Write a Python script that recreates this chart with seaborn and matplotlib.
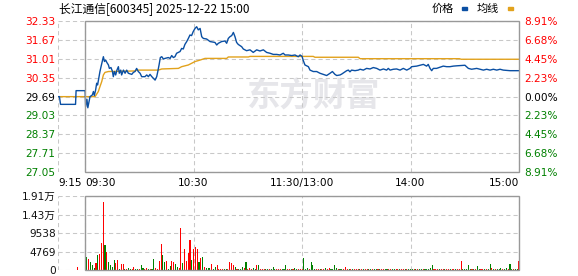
import numpy as np
import pandas as pd
import matplotlib
matplotlib.use('Agg')
import matplotlib.pyplot as plt
import matplotlib.transforms as mtransforms
from matplotlib.patches import Rectangle
import seaborn as sns

sns.set_theme(style='white')
plt.rcParams['font.family'] = ['DejaVu Sans', 'Noto Sans CJK SC']
plt.rcParams['lines.scale_dashes'] = False
CJK = ['Noto Sans CJK SC', 'DejaVu Sans']

# ---------------- data ----------------
title_text = '长江通信[600345] 2025-12-22 15:00'
legend_names = ['价格', '均线']
prev_close = 29.69
price_ticks = [27.05, 27.71, 28.37, 29.03, 29.69, 30.35, 31.01, 31.67, 32.33]
price_labels = ['27.05', '27.71', '28.37', '29.03', '29.69', '30.35', '31.01', '31.67', '32.33']
pct_labels = ['8.91%', '6.68%', '4.45%', '2.23%', '0.00%', '2.23%', '4.45%', '6.68%', '8.91%']
vol_ticks = [0, 4769, 9538, 14307, 19076]
vol_labels = ['0', '4769', '9538', '1.43万', '1.91万']
time_ticks = [-15, 0, 60, 120, 180, 240]          # minutes from 09:30 (trading time)
time_labels = ['9:15', '09:30', '10:30', '11:30/13:00', '14:00', '15:00']

price_t = [-15, -14.2, -13.6, -5.3, -5.0, 0.0, 0.3, 1.0, 1.5, 2.7, 4.0, 4.6, 5.1, 5.8, 6.4, 6.9,
           7.7, 8.2, 8.8, 9.5, 10.1, 10.7, 11.4, 12.0, 12.9, 13.4, 14.3, 15.1, 15.6, 16.2, 16.9,
           17.6, 18.4, 18.9, 19.7, 20.2, 21.2, 22.1, 23.0, 23.9, 25.8, 26.7, 27.6, 28.5, 29.4,
           30.4, 31.3, 33.1, 34.1, 35.0, 35.9, 36.9, 37.8, 38.7, 39.6, 40.2, 40.9, 41.6, 42.4,
           43.3, 44.2, 46.0, 47.0, 47.9, 48.8, 49.7, 50.6, 51.6, 52.5, 53.4, 54.3, 55.2, 56.2,
           57.1, 58.0, 58.9, 59.8, 60.8, 61.7, 62.6, 63.6, 64.5, 65.4, 67.2, 69.1, 71.8, 72.8,
           73.7, 75.5, 77.4, 78.3, 79.2, 80.1, 81.1, 82.0, 82.9, 83.8, 84.7, 86.6, 87.5, 89.3,
           91.2, 93.0, 94.9, 96.7, 98.6, 100.4, 102.3, 104.1, 106.0, 107.8, 109.6, 110.6, 112.4,
           114.3, 116.1, 117.9, 118.9, 120.0, 120.7, 121.6, 123.5, 124.4, 126.2, 128.1, 129.9,
           131.8, 133.6, 135.5, 136.8, 138.2, 139.2, 141.0, 141.9, 143.7, 144.7, 145.6, 146.5,
           147.4, 149.3, 151.1, 152.1, 153.9, 155.7, 157.6, 159.4, 161.3, 163.1, 165.0, 166.8,
           167.7, 168.7, 170.5, 172.3, 174.2, 176.0, 177.9, 179.7, 180.6, 183.4, 185.2, 187.1,
           188.9, 189.8, 190.8, 191.7, 192.6, 194.4, 196.3, 198.1, 200.0, 201.8, 203.7, 205.5,
           210.1, 212.0, 213.8, 216.6, 218.4, 220.3, 222.1, 224.0, 225.8, 227.7, 229.5, 231.3,
           235.0, 240.0]
price_v = [29.69, 29.69, 29.42, 29.42, 29.90, 29.90, 29.34, 29.60, 29.30, 29.69, 29.75, 29.87,
           29.73, 29.92, 30.16, 30.10, 30.39, 30.57, 30.74, 30.92, 31.09, 30.92, 30.97, 30.89,
           30.80, 30.68, 30.71, 30.58, 30.39, 30.57, 30.45, 30.62, 30.74, 30.51, 30.62, 30.45,
           30.62, 30.51, 30.62, 30.51, 30.47, 30.54, 30.57, 30.68, 30.57, 30.51, 30.39, 30.39,
           30.45, 30.39, 30.47, 30.39, 30.33, 30.27, 30.39, 30.57, 30.80, 31.06, 31.09, 31.01,
           31.03, 31.06, 31.03, 31.13, 31.06, 31.09, 31.21, 31.24, 31.27, 31.38, 31.36, 31.52,
           31.62, 31.73, 31.85, 31.83, 31.97, 32.08, 32.14, 32.03, 32.08, 31.79, 31.73, 31.71,
           31.62, 31.59, 31.50, 31.56, 31.62, 31.64, 31.56, 31.73, 31.79, 31.83, 31.94, 31.79,
           31.59, 31.52, 31.44, 31.36, 31.30, 31.33, 31.24, 31.33, 31.29, 31.33, 31.24, 31.21,
           31.17, 31.17, 31.15, 31.21, 31.15, 31.15, 31.13, 31.15, 31.09, 31.15, 31.10, 30.95,
           30.80, 30.74, 30.62, 30.57, 30.57, 30.51, 30.47, 30.43, 30.51, 30.57, 30.47, 30.43,
           30.45, 30.48, 30.56, 30.60, 30.62, 30.56, 30.62, 30.60, 30.62, 30.65, 30.62, 30.68,
           30.66, 30.71, 30.68, 30.62, 30.66, 30.62, 30.68, 30.62, 30.65, 30.66, 30.62, 30.68,
           30.62, 30.68, 30.74, 30.76, 30.79, 30.82, 30.76, 30.82, 30.68, 30.60, 30.68, 30.68,
           30.72, 30.76, 30.74, 30.74, 30.76, 30.77, 30.79, 30.68, 30.65, 30.68, 30.65, 30.62,
           30.65, 30.62, 30.65, 30.62, 30.65, 30.62, 30.60, 30.60]

avg_t = [-15, 5.5, 7.3, 8.2, 9.2, 10.1, 11.0, 12.9, 27.6, 28.5, 40.5, 42.4, 51.6, 53.4, 57.1,
         60.8, 63.5, 66.3, 78.3, 79.2, 90.3, 91.2, 126.2, 127.1, 151.1, 152.1, 207.0, 208.0, 240]
avg_v = [29.69, 29.69, 29.87, 30.04, 30.22, 30.45, 30.54, 30.57, 30.59, 30.62, 30.62, 30.66,
         30.68, 30.74, 30.80, 30.92, 30.97, 31.03, 31.03, 31.08, 31.08, 31.10, 31.10, 31.07,
         31.07, 31.02, 31.02, 31.00, 31.00]

vol_t = [-4] + list(range(1, 241))
vol_v = [900,
         3440, 2840, 2150, 1290, 600, 1890, 3870, 4130, 7050, 17630,
         6450, 4730, 2150, 1290, 690, 2580, 1890, 2580, 260, 1550,
         1550, 260, 260, 430, 260, 260, 690, 260, 260, 260,
         1290, 430, 260, 600, 260, 260, 260, 2840, 430, 260,
         2320, 6700, 3870, 2150, 2400, 260, 1030, 2320, 2150, 1550,
         860, 600, 10900, 1890, 5420, 2320, 4470, 7740, 2580, 5420,
         6020, 5420, 2150, 3010, 3440, 690, 600, 430, 600, 1550,
         260, 860, 1290, 260, 260, 260, 170, 260, 260, 2150,
         1890, 1290, 690, 260, 260, 260, 860, 600, 2150, 260,
         600, 260, 600, 260, 1290, 1290, 260, 260, 260, 260,
         260, 260, 260, 860, 260, 260, 260, 260, 260, 200,
         1290, 260, 260, 260, 260, 600, 260, 260, 260, 260,
         3180, 260, 600, 260, 2150, 1290, 260, 260, 260, 260,
         260, 260, 600, 260, 600, 260, 260, 1290, 600, 260,
         260, 260, 200, 860, 260, 260, 260, 260, 260, 260,
         260, 260, 260, 200, 200, 200, 200, 200, 200, 200,
         200, 200, 200, 200, 200, 200, 200, 200, 200, 200,
         200, 200, 260, 200, 200, 200, 200, 260, 200, 200,
         200, 260, 200, 200, 200, 260, 200, 200, 260, 260,
         600, 1290, 200, 200, 200, 200, 200, 200, 200, 200,
         200, 200, 200, 200, 200, 200, 260, 2320, 200, 260,
         200, 1290, 260, 200, 200, 260, 1030, 200, 200, 200,
         200, 200, 260, 1550, 430, 200, 200, 200, 260, 600,
         200, 260, 600, 200, 1550, 260, 200, 200, 200, 2400]
vol_dir = ('R'
           'GRGGGRGRRR' 'GRGGGGRRGR' 'RGRGGRRGGR' 'GGRRGRGGRR' 'RRGGRGGRRG'
           'GRRGRRRRGR' 'RRGRGRGGGR' 'GGRRRRGGRR' 'RRGRGGGRGR' 'RRGGRGRRRG'
           'GRGGGRRRGG' 'GRRGRGGRRR' 'GGGRGGGRRG' 'RRGRRGGGGR' 'GGRRRGRGRR'
           'RGRGRRGGRG' 'GRGRRGGRRG' 'GRRGRRGRGG' 'GRGRGGRGGG' 'GGRRRGRRGR'
           'RGRRGRRRGG' 'GGGRGRGGRR' 'GRGGRGRGGG' 'RGGRGGRGGR')

# ---------------- figure ----------------
W, H = 578, 276
fig = plt.figure(figsize=(W / 100, H / 100), dpi=100)
fig.patch.set_facecolor('white')
ax = fig.add_axes([58 / W, 1 - 172 / H, 461 / W, 150.7 / H])
axv = fig.add_axes([58 / W, 1 - 270 / H, 461 / W, 74 / H])

BLUE = '#0a4fa3'
GOLD = '#e2a21c'
RED = '#ff0000'
GREEN = '#008000'
GRID = '#c8c8c8'
BOX = '#999999'
dash = (0, (3, 2.2))

for a in (ax, axv):
    a.set_facecolor('white')
    for s in a.spines.values():
        s.set_visible(False)
    a.grid(True, color=GRID, linestyle=dash, linewidth=0.75, zorder=0)
    a.set_axisbelow(True)
    a.tick_params(length=0)

# watermark
ax.text((313 - 58) / 461, (172 - 97) / 150.7, '东方财富', transform=ax.transAxes,
        ha='center', va='center', fontsize=24, fontweight='bold', color='#e6e6ea',
        family=CJK, zorder=0.5)

sns.lineplot(x=avg_t, y=avg_v, ax=ax, color=GOLD, linewidth=1.0, sort=False,
             estimator=None, zorder=3)
sns.lineplot(x=price_t, y=price_v, ax=ax, color=BLUE, linewidth=1.0, sort=False,
             estimator=None, zorder=4)

ax.set_xlim(-15, 240)
ax.set_ylim(price_ticks[0], price_ticks[-1])
ax.set_yticks(price_ticks)
ax.set_yticklabels(price_labels, fontsize=7.6)
ax.tick_params(axis='y', pad=2)
for lbl, v in zip(ax.get_yticklabels(), price_ticks):
    lbl.set_color(RED if v > prev_close else (GREEN if v < prev_close else '#000000'))
ax.set_xticks(time_ticks)
ax.set_xticklabels(time_labels, fontsize=7.6, color='#000000')
ax.tick_params(axis='x', pad=4)
for lbl, ha in zip(ax.get_xticklabels(), ['left', 'left', 'center', 'center', 'center', 'right']):
    lbl.set_ha(ha)
ax.set_xlabel('')
ax.set_ylabel('')

trans = mtransforms.blended_transform_factory(ax.transData, ax.transAxes)
ax.add_patch(Rectangle((0, 0), 240, 1, transform=trans, fill=False, edgecolor=BOX,
                       linewidth=1.0, clip_on=False, zorder=5))

axr = ax.twinx()
for s in axr.spines.values():
    s.set_visible(False)
axr.set_ylim(price_ticks[0], price_ticks[-1])
axr.set_yticks(price_ticks)
axr.set_yticklabels(pct_labels, fontsize=7.6)
axr.tick_params(axis='y', length=0, pad=3.8)
axr.grid(False)
for lbl, v in zip(axr.get_yticklabels(), price_ticks):
    lbl.set_color(RED if v > prev_close else (GREEN if v < prev_close else '#000000'))

# volume
vol_df = pd.DataFrame({'t': vol_t, 'vol': vol_v, 'dir': list(vol_dir)})
sns.barplot(data=vol_df, x='t', y='vol', hue='dir', palette={'R': RED, 'G': GREEN},
            native_scale=True, dodge=False, width=0.6, errorbar=None, legend=False,
            saturation=1, linewidth=0, ax=axv, zorder=3)
axv.set_xlim(-15, 240)
axv.set_ylim(0, vol_ticks[-1])
axv.set_yticks(vol_ticks)
axv.set_yticklabels(vol_labels, fontsize=7.6, color='#111111')
axv.tick_params(axis='y', pad=1.5)
axv.set_xticks(time_ticks)
axv.set_xticklabels([''] * len(time_ticks))
axv.set_xlabel('')
axv.set_ylabel('')
transv = mtransforms.blended_transform_factory(axv.transData, axv.transAxes)
axv.add_patch(Rectangle((0, 0), 240, 1, transform=transv, fill=False, edgecolor=BOX,
                        linewidth=1.0, clip_on=False, zorder=5))

# title and legend
fig.text(59 / W, 1 - 9 / H, title_text, ha='left', va='center', fontsize=8.5,
         family=CJK, color='#000000')
fig.text(431.5 / W, 1 - 9 / H, legend_names[0], ha='left', va='center', fontsize=8,
         family=CJK, color='#000000')
fig.text(476.5 / W, 1 - 9 / H, legend_names[1], ha='left', va='center', fontsize=8,
         family=CJK, color='#000000')
fig.add_artist(Rectangle((461.7 / W, 1 - 10.2 / H), 5 / W, 2.8 / H, color=BLUE,
                         transform=fig.transFigure))
fig.add_artist(Rectangle((507.7 / W, 1 - 10.2 / H), 5 / W, 2.8 / H, color=GOLD,
                         transform=fig.transFigure))

fig.savefig('out.png', dpi=100, facecolor='white')
